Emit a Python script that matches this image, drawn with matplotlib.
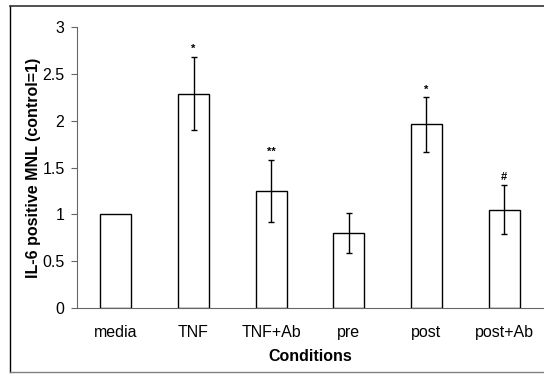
import matplotlib
matplotlib.use("Agg")
from matplotlib import pyplot as plt
from matplotlib.lines import Line2D

plt.rcParams['font.family'] = ['Liberation Sans', 'DejaVu Sans']

conditions = ['media', 'TNF', 'TNF+Ab', 'pre', 'post', 'post+Ab']
values = [1.0, 2.29, 1.25, 0.80, 1.96, 1.05]
errors = [0.0, 0.39, 0.33, 0.21, 0.29, 0.26]
marks = ['', '*', '**', '', '*', '#']

fig = plt.figure(figsize=(5.44, 3.75), dpi=100)
ax = fig.add_axes([77/544, 1 - 308/375, 466/544, 281/375])

x = list(range(len(conditions)))
ax.bar(x, values, width=0.4, color='white', edgecolor='black', linewidth=1.0, zorder=2)
ax.errorbar([i for i in x if errors[i] > 0], [values[i] for i in x if errors[i] > 0],
            yerr=[errors[i] for i in x if errors[i] > 0], fmt='none', ecolor='black',
            elinewidth=1.0, capsize=2.5, capthick=1.0, zorder=3)
for i in x:
    if marks[i]:
        ax.text(i, values[i] + errors[i] + 0.03, marks[i], ha='center', va='bottom',
                fontsize=8, fontweight='bold')

ax.set_xlim(-0.5, 5.5)
ax.set_ylim(0, 3)
ax.set_yticks([0, 0.5, 1, 1.5, 2, 2.5, 3])
ax.set_yticklabels(['0', '0.5', '1', '1.5', '2', '2.5', '3'])
ax.set_xticks(x)
ax.set_xticklabels(conditions)
ax.tick_params(axis='x', length=0, pad=12, labelsize=11.5)
ax.tick_params(axis='y', length=4, width=0.8, color='0.4', pad=5, labelsize=11.5)
for s in ['top', 'right']:
    ax.spines[s].set_visible(False)
for s in ['left', 'bottom']:
    ax.spines[s].set_color('0.4')
    ax.spines[s].set_linewidth(0.8)

ax.set_ylabel('IL-6 positive MNL (control=1)', fontsize=11.5, fontweight='bold', labelpad=1)
ax.set_xlabel('Conditions', fontsize=11.5, fontweight='bold', labelpad=7)

# outer frame (left, top, bottom)
fx0, fy0, fy1 = 10/544, 1 - 372/375, 1 - 6/375
fig.add_artist(Line2D([fx0, fx0], [fy0, fy1], color='black', lw=1.0, transform=fig.transFigure))
fig.add_artist(Line2D([fx0, 1.0], [fy1, fy1], color='0.2', lw=1.2, transform=fig.transFigure))
fig.add_artist(Line2D([fx0, 1.0], [fy0, fy0], color='0.5', lw=1.0, transform=fig.transFigure))

fig.savefig('out.png', dpi=100)
